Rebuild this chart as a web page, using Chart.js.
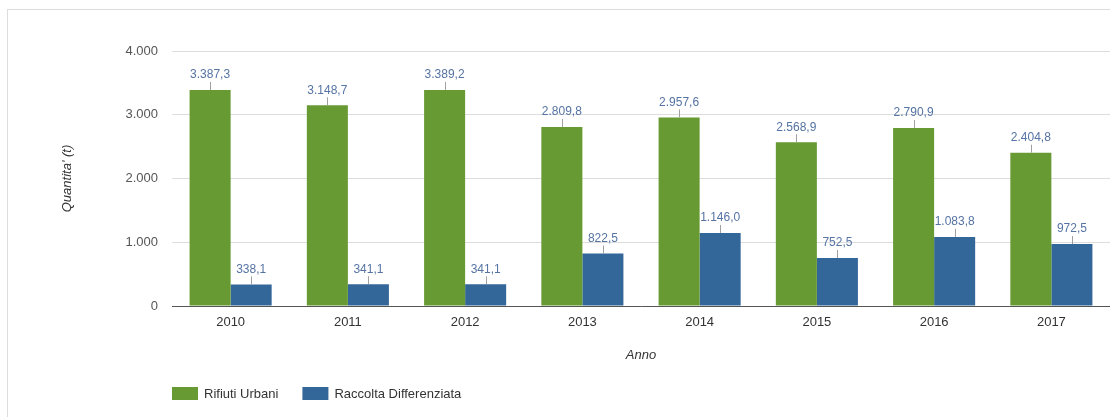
<!DOCTYPE html>
<html>
<head>
<meta charset="utf-8">
<script src="https://cdn.jsdelivr.net/npm/chart.js@4/dist/chart.umd.min.js"></script>
<style>
html,body{margin:0;padding:0;background:#fff;overflow:hidden;}
#frame{position:absolute;left:7px;top:9px;width:1200px;height:500px;border:1px solid #dcdcdc;}
#wrap{position:absolute;left:0;top:0;width:1110px;height:417px;}
</style>
</head>
<body>
<div id="frame"></div>
<div id="wrap"><canvas id="c"></canvas></div>
<script>
const categories = ['2010','2011','2012','2013','2014','2015','2016','2017'];
const rifiutiUrbani = [3387.3, 3148.7, 3389.2, 2809.8, 2957.6, 2568.9, 2790.9, 2404.8];
const raccoltaDifferenziata = [338.1, 341.1, 341.1, 822.5, 1146.0, 752.5, 1083.8, 972.5];
const seriesNames = ['Rifiuti Urbani', 'Raccolta Differenziata'];
const yTicks = [0, 1000, 2000, 3000, 4000];

const fmt = (v, dec) => v.toLocaleString('it-IT', {minimumFractionDigits: dec, maximumFractionDigits: dec});
const FONT = 'Arial, "Liberation Sans", sans-serif';

const valueLabels = {
  id: 'valueLabels',
  afterDatasetsDraw(chart) {
    const ctx = chart.ctx;
    ctx.save();
    chart.data.datasets.forEach((ds, i) => {
      const meta = chart.getDatasetMeta(i);
      meta.data.forEach((bar, j) => {
        const x = bar.x, y = bar.y;
        ctx.strokeStyle = '#a0a0a0';
        ctx.lineWidth = 1;
        ctx.beginPath();
        ctx.moveTo(Math.round(x) + 0.5, y);
        ctx.lineTo(Math.round(x) + 0.5, y - 8);
        ctx.stroke();
        ctx.fillStyle = '#5573a3';
        ctx.font = '12px ' + FONT;
        ctx.textAlign = 'center';
        ctx.textBaseline = 'middle';
        ctx.fillText(fmt(ds.data[j], 1), x, y - 15);
      });
    });
    ctx.restore();
  }
};

const bottomLegend = {
  id: 'bottomLegend',
  afterDraw(chart) {
    const ctx = chart.ctx;
    ctx.save();
    let x = chart.chartArea.left;
    const y = 394;
    ctx.font = '13px ' + FONT;
    ctx.textBaseline = 'middle';
    ctx.textAlign = 'left';
    chart.data.datasets.forEach(ds => {
      ctx.fillStyle = ds.backgroundColor;
      ctx.fillRect(x, y - 7, 26, 13);
      ctx.fillStyle = '#333';
      ctx.fillText(ds.label, x + 32, y);
      x += 32 + ctx.measureText(ds.label).width + 24;
    });
    ctx.restore();
  }
};

new Chart(document.getElementById('c'), {
  type: 'bar',
  data: {
    labels: categories,
    datasets: [
      {label: seriesNames[0], data: rifiutiUrbani, backgroundColor: '#679a33', categoryPercentage: 0.7, barPercentage: 1.0},
      {label: seriesNames[1], data: raccoltaDifferenziata, backgroundColor: '#336699', categoryPercentage: 0.7, barPercentage: 1.0}
    ]
  },
  options: {
    responsive: true,
    maintainAspectRatio: false,
    animation: false,
    layout: {padding: {left: 56, top: 51, right: 0, bottom: 50}},
    plugins: {legend: {display: false}, tooltip: {enabled: false}},
    scales: {
      x: {
        grid: {display: false, drawTicks: false},
        border: {color: '#555', width: 1},
        ticks: {color: '#333', font: {size: 13, family: FONT}, padding: 9},
        title: {display: true, text: 'Anno', color: '#333', font: {size: 13, style: 'italic', family: FONT}},
        afterFit(s) { s.height = 61; }
      },
      y: {
        min: 0, max: 4000,
        afterBuildTicks(s) { s.ticks = yTicks.map(v => ({value: v})); },
        grid: {color: '#dddddd', drawTicks: false},
        border: {display: false},
        ticks: {color: '#555', font: {size: 13, family: FONT}, padding: 14, callback: v => fmt(v, 0)},
        title: {display: true, text: "Quantita' (t)", color: '#333', font: {size: 13, style: 'italic', family: FONT}},
        afterFit(s) { s.width = 116; }
      }
    }
  },
  plugins: [valueLabels, bottomLegend]
});
</script>
</body>
</html>
